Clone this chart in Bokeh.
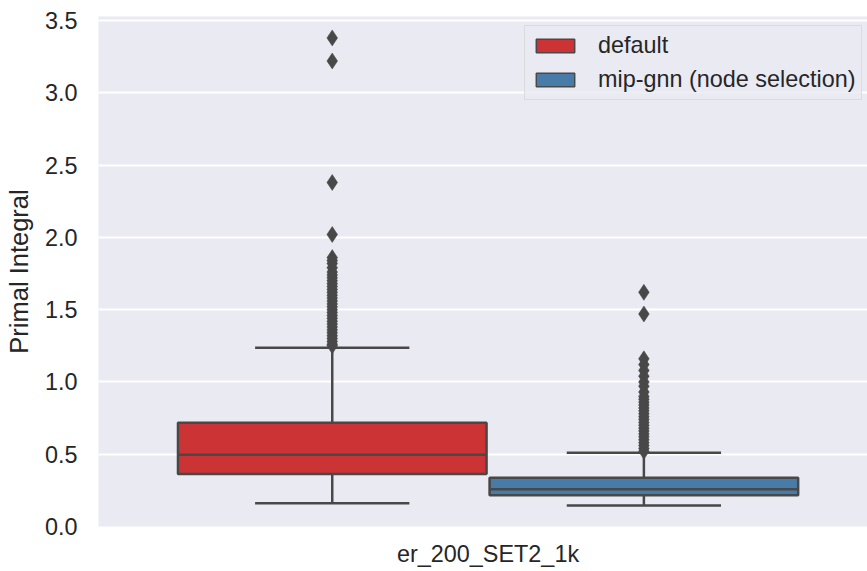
from bokeh.plotting import figure
from bokeh.models import Range1d, Legend, LegendItem, FixedTicker
from bokeh.embed import file_html
from bokeh.resources import INLINE

# ---- data ----
category = "er_200_SET2_1k"
hues = ["default", "mip-gnn (node selection)"]
colors = ["#CB3334", "#477CA8"]
q1 = [0.364, 0.216]
median = [0.496, 0.258]
q3 = [0.717, 0.337]
whisker_low = [0.161, 0.145]
whisker_high = [1.236, 0.510]
outliers_default = [3.38, 3.22, 2.38, 2.02, 1.86, 1.84, 1.82, 1.79, 1.76, 1.74, 1.72,
                    1.70, 1.68, 1.66, 1.64, 1.62, 1.60, 1.58, 1.56, 1.54, 1.52, 1.50,
                    1.48, 1.46, 1.44, 1.42, 1.40, 1.38, 1.36, 1.34, 1.32, 1.30, 1.28,
                    1.26, 1.25]
outliers_gnn = [1.62, 1.47, 1.16, 1.12, 1.08, 1.04, 1.00, 0.97, 0.93, 0.90, 0.88,
                0.86, 0.84, 0.82, 0.80, 0.78, 0.76, 0.74, 0.72, 0.70, 0.68, 0.66,
                0.64, 0.62, 0.60, 0.58, 0.56, 0.54, 0.52]
yticks = [0.0, 0.5, 1.0, 1.5, 2.0, 2.5, 3.0, 3.5]

FONT = "Liberation Sans"
TXT = "#262626"
LINE = "#484848"
FS = "23.4px"
FS_LABEL = "25.5px"

p = figure(width=867, height=571, output_backend="svg", toolbar_location=None,
           x_range=Range1d(-0.5, 0.487), y_range=Range1d(0, 3.528),
           min_border_left=98, min_border_right=0, min_border_top=16, min_border_bottom=45)
p.background_fill_color = "#EAEAF2"
p.border_fill_color = "white"
p.outline_line_color = None
p.xgrid.grid_line_color = None
p.ygrid.grid_line_color = "white"
p.ygrid.grid_line_width = 2

centers = [-0.2, 0.2]
box_w = 0.396
cap_w = box_w / 2

items = []
for i in range(2):
    c = centers[i]
    # whiskers
    p.segment(x0=[c, c], y0=[q3[i], q1[i]], x1=[c, c], y1=[whisker_high[i], whisker_low[i]],
              line_color=LINE, line_width=2.5)
    # caps
    p.segment(x0=[c - cap_w / 2] * 2, y0=[whisker_high[i], whisker_low[i]],
              x1=[c + cap_w / 2] * 2, y1=[whisker_high[i], whisker_low[i]],
              line_color=LINE, line_width=2.5)
    # legend proxy (hidden beneath the real box, thinner edge for the legend swatch)
    proxy = p.quad(left=[c - box_w / 2], right=[c + box_w / 2], bottom=[q1[i]], top=[q3[i]],
                   fill_color=colors[i], line_color=LINE, line_width=1.5)
    items.append(LegendItem(label=hues[i], renderers=[proxy]))
    # box
    p.quad(left=[c - box_w / 2], right=[c + box_w / 2], bottom=[q1[i]], top=[q3[i]],
           fill_color=colors[i], line_color=LINE, line_width=2.5)
    # median
    p.segment(x0=[c - box_w / 2], y0=[median[i]], x1=[c + box_w / 2], y1=[median[i]],
              line_color=LINE, line_width=2.5)

for c, outs in zip(centers, [outliers_default, outliers_gnn]):
    p.scatter(x=[c] * len(outs), y=outs, marker="diamond", size=16,
              fill_color=LINE, line_color=LINE, line_width=0.5)

legend = Legend(items=items, location=(426, 426))
legend.label_text_font = FONT
legend.label_text_font_size = FS
legend.label_text_color = TXT
legend.glyph_width = 48
legend.glyph_height = 17
legend.label_standoff = 19
legend.label_height = 27
legend.spacing = 7
legend.padding = 6
legend.margin = 0
legend.background_fill_color = "#EAEAF2"
legend.background_fill_alpha = 0.8
legend.border_line_color = "#CCCCCC"
legend.border_line_width = 1
p.add_layout(legend)

# axes
p.xaxis.ticker = FixedTicker(ticks=[0])
p.xaxis.major_label_overrides = {0: category}
p.yaxis.ticker = FixedTicker(ticks=yticks)
p.yaxis.major_label_overrides = {t: f"{t:.1f}" for t in yticks}
p.yaxis.axis_label = "Primal Integral"
for ax in [p.xaxis[0], p.yaxis[0]]:
    ax.axis_line_color = None
    ax.major_tick_line_color = None
    ax.minor_tick_line_color = None
    ax.major_tick_out = 0
    ax.major_tick_in = 0
    ax.minor_tick_out = 0
    ax.major_label_text_font = FONT
    ax.major_label_text_font_size = FS
    ax.major_label_text_color = TXT
    ax.axis_label_text_font = FONT
    ax.axis_label_text_font_size = FS_LABEL
    ax.axis_label_text_color = TXT
    ax.axis_label_text_font_style = "normal"
p.xaxis.major_label_standoff = 14
p.yaxis.major_label_standoff = 21
p.yaxis.axis_label_standoff = 9

open("out.html", "w").write(file_html(p, INLINE))
